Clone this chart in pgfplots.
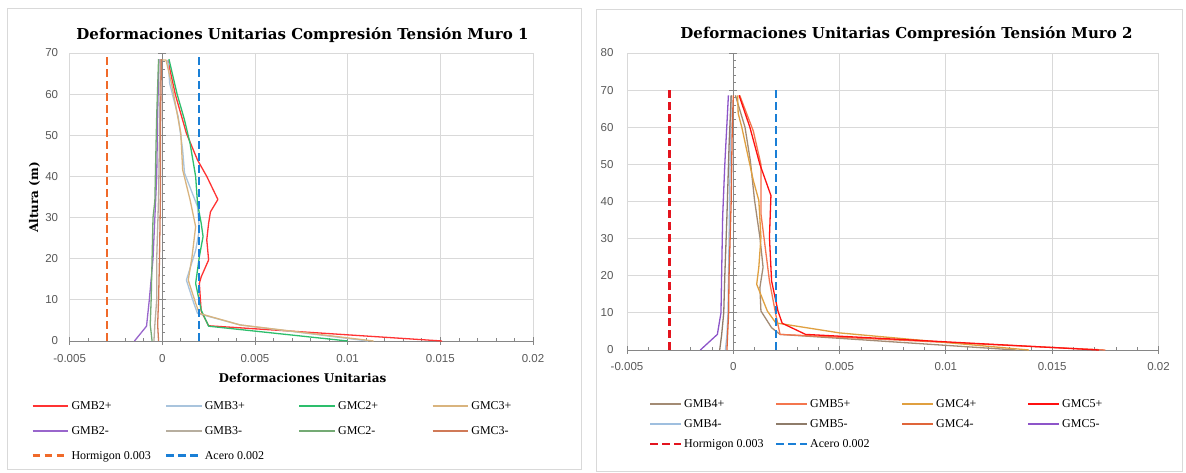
\documentclass[border=0pt]{standalone}
\usepackage{fontspec}
\setmainfont{Liberation Serif}
\newfontfamily\titlefont{DejaVu Serif}
\newfontfamily\ticksf{Liberation Sans}
\usepackage{pgfplots}
\pgfplotsset{compat=1.18}

\definecolor{gridc}{HTML}{D9D9D9}
\definecolor{axisc}{HTML}{868686}
\definecolor{tickc}{HTML}{595959}
\definecolor{panelc}{HTML}{D9D9D9}
% chart 1
\definecolor{redA}{HTML}{FF3333}
\definecolor{blueA}{HTML}{A9C4DD}
\definecolor{greenA}{HTML}{2DBE6C}
\definecolor{tanA}{HTML}{D9B47E}
\definecolor{purpleA}{HTML}{9966CC}
\definecolor{grayA}{HTML}{B7AE9F}
\definecolor{dgreenA}{HTML}{74AA74}
\definecolor{brownA}{HTML}{D07A58}
\definecolor{hormA}{HTML}{F06A2A}
\definecolor{acero}{HTML}{1A7FD6}
% chart 2
\definecolor{brownB}{HTML}{A38B74}
\definecolor{salmonB}{HTML}{F4764E}
\definecolor{orangeB}{HTML}{E0A040}
\definecolor{redB}{HTML}{FF1010}
\definecolor{blueB}{HTML}{9FBFDF}
\definecolor{dbrownB}{HTML}{8E7C6A}
\definecolor{oredB}{HTML}{E0653A}
\definecolor{purpleB}{HTML}{8D55C9}
\definecolor{hormB}{HTML}{E3141E}

\tikzset{dashl/.style={line width=2.2pt, dash pattern=on 7.5pt off 4.5pt}}

\pgfplotsset{
  excel/.style={
    scale only axis,
    axis line style={draw=none},
    tick style={draw=none},
    major tick length=0pt, minor tick length=0pt,
    grid=major,
    grid style={color=gridc, line width=0.9pt},
    xmin=-0.005, xmax=0.02,
    xtick={-0.005,0,0.005,0.01,0.015,0.02},
    xticklabels={-0.005,0,0.005,0.01,0.015,0.02},
    scaled x ticks=false,
    ymin=0,
    tick label style={font=\ticksf\fontsize{11.5}{13}\selectfont, text=tickc},
    every axis plot/.append style={line width=1.3pt, line join=round},
    clip=false,
  },
}

% legend entry: #1 x of sample start, #2 baseline y, #3 sample length, #4 style, #5 text
\newcommand{\legentry}[5]{%
  \draw[#4] (#1pt,#2pt+3.9pt) -- ++(#3pt,0pt);
  \node[anchor=base west, inner sep=0pt, font=\fontsize{12}{14}\selectfont]
     at (#1pt+#3pt+3pt,#2pt) {#5};}

\begin{document}
\begin{tikzpicture}
\path[use as bounding box] (0pt,0pt) rectangle (1186pt,473pt);
\fill[white] (0pt,0pt) rectangle (1186pt,473pt);
\draw[panelc, line width=0.9pt] (7pt,4pt) rectangle (581pt,465pt);
\draw[panelc, line width=0.9pt] (596pt,2pt) rectangle (1182pt,464pt);

% ---------------- Chart 1 ----------------
\begin{axis}[excel,
  at={(69.6pt,132pt)}, anchor=south west,
  width=463.4pt, height=288pt,
  ymax=70, ytick={0,10,20,30,40,50,60,70},
  yticklabels={0,10,20,30,40,50,60,70},
  yticklabel style={xshift=-8pt},
  xticklabel style={yshift=-10pt},
]
\draw[axisc, line width=0.9pt] (axis cs:0,0) -- (axis cs:0,70);
\draw[axisc, line width=0.9pt] (axis cs:-0.005,0) -- (axis cs:0.02,0);
\pgfplotsinvokeforeach{0,10,20,30,40,50,60,70}{
  \draw[axisc, line width=0.9pt] ([xshift=-4pt]axis cs:0,#1) -- ([xshift=4pt]axis cs:0,#1);}
\pgfplotsinvokeforeach{2,4,6,8,12,14,16,18,22,24,26,28,32,34,36,38,42,44,46,48,52,54,56,58,62,64,66,68}{
  \draw[axisc, line width=0.7pt] (axis cs:0,#1) -- ++(3pt,0pt);}
\pgfplotsinvokeforeach{-0.005,0,0.005,0.01,0.015,0.02}{
  \draw[axisc, line width=0.9pt] ([yshift=-4pt]axis cs:#1,0) -- ([yshift=4pt]axis cs:#1,0);}
\pgfplotsinvokeforeach{-0.004,-0.003,-0.002,-0.001,0.001,0.002,0.003,0.004,0.006,0.007,0.008,0.009,0.011,0.012,0.013,0.014,0.016,0.017,0.018,0.019}{
  \draw[axisc, line width=0.7pt] (axis cs:#1,0) -- ++(0pt,3pt);}

\addplot[color=redA] coordinates {(0.0151,0) (0.0025,3.7) (0.0021,7.2) (0.0020,14) (0.0021,15.6) (0.0025,19.7) (0.0024,24.6) (0.0025,28.6) (0.0026,31.4) (0.0030,34.4) (0.0024,40) (0.0019,44) (0.0013,50.5) (0.0007,60) (0.0003,68.3)};
\addplot[color=blueA] coordinates {(0.0111,0) (0.0042,3.9) (0.0019,6.7) (0.0017,9.2) (0.0013,14.8) (0.0018,22) (0.0020,27) (0.0019,32.7) (0.0012,40.8) (0.0011,46.4) (0.00086,54.5) (0.0004,62.6) (0.0003,68.3)};
\addplot[color=greenA] coordinates {(0.0100,0) (0.0025,3.6) (0.0021,7.5) (0.0018,14) (0.0020,20.5) (0.0022,25.4) (0.0021,28.6) (0.0019,33.5) (0.0018,40) (0.0015,48) (0.0012,53.7) (0.0008,60) (0.00036,68.5)};
\addplot[color=tanA] coordinates {(0.0114,0) (0.0042,3.9) (0.0020,6.7) (0.0018,9.2) (0.0014,14.8) (0.0016,20.3) (0.0018,27.8) (0.0015,34.3) (0.0011,41.6) (0.0010,50.5) (0.0005,62.6) (0.0002,68.3) (0.0,68.3)};
\addplot[color=purpleA] coordinates {(-0.0015,0) (-0.00085,3.6) (-0.0007,10) (-0.0005,20) (-0.0004,30) (-0.0003,40) (-0.00025,55) (-0.00018,68.5)};
\addplot[color=grayA] coordinates {(-0.00045,0) (-0.0004,4) (-0.0003,10) (-0.0003,20) (-0.0002,35) (-0.00015,50) (-0.0001,68.5)};
\addplot[color=dgreenA] coordinates {(-0.00055,0) (-0.00065,4) (-0.0006,10) (-0.00055,20) (-0.0005,30) (-0.0004,34) (-0.00035,45) (-0.0003,55) (-0.0002,68.5)};
\addplot[color=brownA] coordinates {(-0.0002,0) (-0.00025,4) (-0.0002,10) (-0.00015,20) (-0.0001,35) (-0.0001,50) (-0.00005,68.5)};
\addplot[color=hormA, dashl] coordinates {(-0.003,0) (-0.003,70)};
\addplot[color=acero, dashl] coordinates {(0.002,0) (0.002,70)};
\end{axis}

% ---------------- Chart 2 ----------------
\begin{axis}[excel,
  at={(627pt,123pt)}, anchor=south west,
  width=531.5pt, height=297pt,
  ymax=80, ytick={0,10,20,30,40,50,60,70,80},
  yticklabels={0,10,20,30,40,50,60,70,80},
  yticklabel style={xshift=-10pt},
  xticklabel style={yshift=-8.8pt},
]
\draw[axisc, line width=0.9pt] (axis cs:0,0) -- (axis cs:0,80);
\draw[axisc, line width=0.9pt] (axis cs:-0.005,0) -- (axis cs:0.02,0);
\pgfplotsinvokeforeach{0,10,20,30,40,50,60,70,80}{
  \draw[axisc, line width=0.9pt] ([xshift=-4pt]axis cs:0,#1) -- ([xshift=4pt]axis cs:0,#1);}
\pgfplotsinvokeforeach{2,4,6,8,12,14,16,18,22,24,26,28,32,34,36,38,42,44,46,48,52,54,56,58,62,64,66,68,72,74,76,78}{
  \draw[axisc, line width=0.7pt] (axis cs:0,#1) -- ++(3pt,0pt);}
\pgfplotsinvokeforeach{-0.005,0,0.005,0.01,0.015,0.02}{
  \draw[axisc, line width=0.9pt] ([yshift=-4pt]axis cs:#1,0) -- ([yshift=4pt]axis cs:#1,0);}
\pgfplotsinvokeforeach{-0.004,-0.003,-0.002,-0.001,0.001,0.002,0.003,0.004,0.006,0.007,0.008,0.009,0.011,0.012,0.013,0.014,0.016,0.017,0.018,0.019}{
  \draw[axisc, line width=0.7pt] (axis cs:#1,0) -- ++(0pt,3pt);}

\addplot[color=brownB] coordinates {(0.0133,0) (0.0022,4.2) (0.0018,6) (0.0013,10.5) (0.00125,16.8) (0.0014,22.3) (0.00125,30.4) (0.0010,40.3) (0.0008,51) (0.00055,60) (0.0001,68.6)};
\addplot[color=salmonB] coordinates {(0.0175,0) (0.0022,4.2) (0.0020,9.5) (0.0017,18.6) (0.0015,27.7) (0.0013,36.7) (0.0013,45.7) (0.0013,50) (0.00094,59) (0.0003,68.6)};
\addplot[color=orangeB] coordinates {(0.0139,0) (0.0050,4.6) (0.0020,7.3) (0.0016,10.5) (0.0011,17.7) (0.0012,22.3) (0.0013,30.4) (0.0012,40.3) (0.00094,45.7) (0.0007,52) (0.0004,60) (0.00023,63.7) (0.0002,68.6)};
\addplot[color=redB] coordinates {(0.0172,0) (0.0034,4.2) (0.0023,7.2) (0.0021,10.5) (0.0020,13.2) (0.0018,18.6) (0.0017,30.4) (0.00177,41.6) (0.00125,50) (0.00078,60) (0.00027,68.6)};
\addplot[color=blueB] coordinates {(-0.00037,0) (-0.0003,4) (-0.00025,10) (-0.0002,30) (-0.00015,50) (-0.0001,68.6)};
\addplot[color=dbrownB] coordinates {(-0.00064,0) (-0.00055,4) (-0.00045,10) (-0.0004,20) (-0.0003,36) (-0.0002,55) (-0.0001,68.6)};
\addplot[color=oredB] coordinates {(-0.0003,0) (-0.00027,4) (-0.00022,10) (-0.0002,20) (-0.00018,24) (-0.0001,40) (-0.00005,60) (0.0,68.6)};
\addplot[color=purpleB] coordinates {(-0.00155,0) (-0.00075,4.2) (-0.00058,10) (-0.00055,20) (-0.0005,36) (-0.0004,50) (-0.00023,68.6)};
\addplot[color=hormB, dashl] coordinates {(-0.003,0) (-0.003,70)};
\addplot[color=acero, dashl] coordinates {(0.002,0) (0.002,70)};
\end{axis}

% ---------------- legends ----------------
\legentry{32.7}{63}{35.6}{redA, line width=1.5pt}{GMB2+}
\legentry{166}{63}{35.6}{blueA, line width=1.5pt}{GMB3+}
\legentry{299.3}{63}{35.6}{greenA, line width=1.5pt}{GMC2+}
\legentry{432.6}{63}{35.6}{tanA, line width=1.5pt}{GMC3+}
\legentry{32.7}{38.3}{35.6}{purpleA, line width=1.5pt}{GMB2-}
\legentry{166}{38.3}{35.6}{grayA, line width=1.5pt}{GMB3-}
\legentry{299.3}{38.3}{35.6}{dgreenA, line width=1.5pt}{GMC2-}
\legentry{432.6}{38.3}{35.6}{brownA, line width=1.5pt}{GMC3-}
\legentry{32.7}{13.6}{35.6}{hormA, dashl}{Hormigon 0.003}
\legentry{166}{13.6}{35.6}{acero, dashl}{Acero 0.002}

\legentry{650}{65}{31}{brownB, line width=1.5pt}{GMB4+}
\legentry{776}{65}{31}{salmonB, line width=1.5pt}{GMB5+}
\legentry{902}{65}{31}{orangeB, line width=1.5pt}{GMC4+}
\legentry{1028}{65}{31}{redB, line width=1.5pt}{GMC5+}
\legentry{650}{45}{31}{blueB, line width=1.5pt}{GMB4-}
\legentry{776}{45}{31}{dbrownB, line width=1.5pt}{GMB5-}
\legentry{902}{45}{31}{oredB, line width=1.5pt}{GMC4-}
\legentry{1028}{45}{31}{purpleB, line width=1.5pt}{GMC5-}
\legentry{650}{25}{31}{hormB, dashl}{Hormigon 0.003}
\legentry{776}{25}{31}{acero, dashl}{Acero 0.002}

% titles and labels
\node[anchor=base, font=\titlefont\bfseries\fontsize{15}{17}\selectfont] at (302.5pt,433pt) {Deformaciones Unitarias Compresión Tensión Muro 1};
\node[anchor=base, font=\titlefont\bfseries\fontsize{15}{17}\selectfont] at (906.5pt,434pt) {Deformaciones Unitarias Compresión Tensión Muro 2};
\node[anchor=base, font=\titlefont\bfseries\fontsize{12}{14}\selectfont] at (302.5pt,90pt) {Deformaciones Unitarias};
\node[anchor=base, rotate=90, font=\titlefont\bfseries\fontsize{12}{14}\selectfont] at (38pt,275.5pt) {Altura (m)};
\end{tikzpicture}
\end{document}
